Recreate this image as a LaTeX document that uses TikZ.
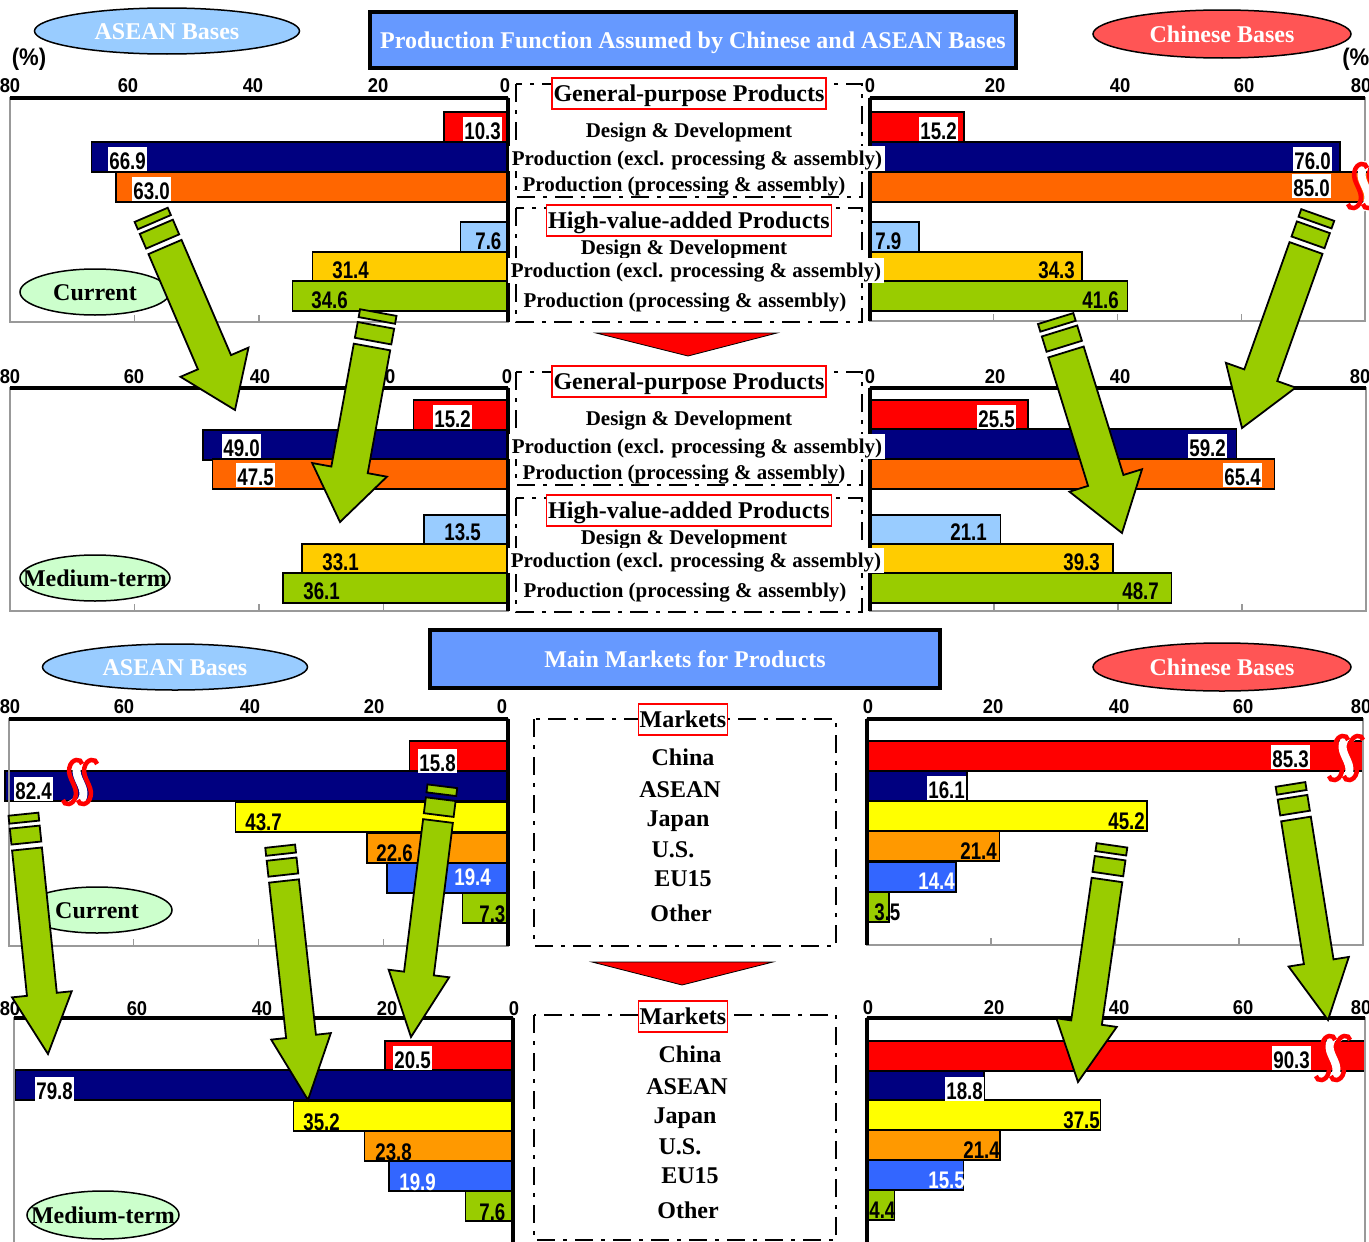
\documentclass[tikz,border=0pt]{standalone}
\usepackage{fontspec}
\setmainfont{Liberation Serif}
\newfontfamily\valfam[FakeStretch=0.78]{Liberation Sans}
\newfontfamily\tickfam[FakeStretch=0.92]{Liberation Sans}
\usetikzlibrary{shapes.geometric}
\tikzset{every picture/.style={line width=0.75pt}}

\definecolor{cred}{HTML}{FF0000}
\definecolor{cnavy}{HTML}{000080}
\definecolor{corange}{HTML}{FF6600}
\definecolor{clight}{HTML}{99CCFF}
\definecolor{cgold}{HTML}{FFCC00}
\definecolor{cgreen}{HTML}{99CC00}
\definecolor{cyellow}{HTML}{FFFF00}
\definecolor{cusa}{HTML}{FF9900}
\definecolor{ceu}{HTML}{3366FF}
\definecolor{ctitle}{HTML}{6699FF}
\definecolor{cchina}{HTML}{FF5555}
\definecolor{cphase}{HTML}{CCFFCC}

\newcommand{\headfont}{\bfseries\fontsize{24}{28}\selectfont}
\newcommand{\rowfont}{\bfseries\fontsize{21}{25}\selectfont}
\newcommand{\valfont}{\valfam\bfseries\fontsize{24}{28}\selectfont}
\newcommand{\tickfont}{\tickfam\bfseries\fontsize{20}{24}\selectfont}
\newcommand{\pctfont}{\tickfam\bfseries\fontsize{24}{28}\selectfont}

\newcommand{\chartbox}[5]{%
  \draw[chartframe] (#1,#3) rectangle (#2,#4);
  \foreach \k in {1,2,3} {\draw[chartframe] ({#1+\k*(#2-#1)/4},#4) -- ++(0,-7);}
  \draw[axisline] (#1,#3) -- (#2,#3);
  \draw[zeroline] (#5,#3) -- (#5,#4);
}

\newcommand{\greenarrow}[7]{%
  \begin{scope}[shift={(#1,#2)}, rotate={atan2(#2-#4,#3-#1)}]
    \pgfmathsetmacro{\arrlen}{veclen(#3-#1,#4-#2)}
    \draw[garrow] (0,-#5) -- ({\arrlen-#7},-#5) -- ({\arrlen-#7},-#6) -- (\arrlen,0)
      -- ({\arrlen-#7},#6) -- ({\arrlen-#7},#5) -- (0,#5) -- cycle;
    \draw[garrow] (-6,-#5) rectangle (-22,#5);
    \draw[garrow] (-27,-#5) rectangle (-35,#5);
  \end{scope}}

\newcommand{\breakmark}[2]{%
  \begin{scope}[shift={(#1,#2)}, xslant=0.2]
    \draw[white, line width=8pt] (6,-18) .. controls (4,-24) and (-6,-24) .. (-6,-14)
      .. controls (-6,-4) and (6,4) .. (6,14) .. controls (6,24) and (-4,24) .. (-6,18);
    \foreach \d in {-7.5,7.5} {
      \draw[brk] (\d+6,-18) .. controls (\d+4,-24) and (\d-6,-24) .. (\d-6,-14)
        .. controls (\d-6,-4) and (\d+6,4) .. (\d+6,14) .. controls (\d+6,24) and (\d-4,24) .. (\d-6,18);
    }
  \end{scope}}

\begin{document}
\begin{tikzpicture}[x=1pt, y=-1pt,
  bar/.style={draw=black, line width=1.6pt},
  chartframe/.style={draw=gray!80, line width=1.3pt},
  axisline/.style={draw=black, line width=3.5pt},
  zeroline/.style={draw=black, line width=4.5pt},
  val/.style={font=\valfont, anchor=base west, inner xsep=1pt, inner ysep=1pt, text height=21pt, text depth=1pt},
  ticklab/.style={font=\tickfont, anchor=base, inner sep=0pt},
  dashbox/.style={draw=black, line width=2.5pt, dash pattern=on 18pt off 8pt on 4pt off 8pt},
  grp/.style={draw=cred, fill=white, line width=1.3pt, font=\headfont, anchor=base, inner xsep=1.5pt, inner ysep=2pt, text height=21pt, text depth=6pt},
  rowtext/.style={font=\rowfont, anchor=base, inner xsep=2pt, inner ysep=1pt, text height=18pt, text depth=5pt},
  rowbg/.style={rowtext, fill=white, inner xsep=3pt},
  mkt/.style={font=\headfont, anchor=base, inner sep=1pt},
  titlebox/.style={draw=black, line width=4pt, fill=ctitle, text=white, font=\headfont, inner sep=0pt, text height=16pt, text depth=0pt},
  ell/.style={ellipse, draw=black, line width=1.5pt, font=\headfont, inner sep=0pt, text height=16pt, text depth=0pt},
  redtri/.style={fill=cred, draw=black, line width=0.8pt},
  garrow/.style={fill=cgreen, draw=black, line width=1.8pt, line join=miter},
  brk/.style={draw=cred, line width=4.5pt}]

\path[use as bounding box, clip] (0,0) rectangle (1369,1242);
\fill[white] (0,0) rectangle (1369,1242);

\foreach \t/\v/\c in {112/10.3/cred, 142/66.9/cnavy, 172/63.0/corange, 222/7.6/clight, 252/31.4/cgold, 281/34.6/cgreen}
  \draw[bar, fill=\c] (508,\t) rectangle ({508-6.225*\v},{\t+30});
\foreach \t/\v/\c in {112/15.2/cred, 142/76.0/cnavy, 172/81/corange, 222/7.9/clight, 252/34.3/cgold, 281/41.6/cgreen}
  \draw[bar, fill=\c] (870,\t) rectangle ({870+6.1875*\v},{\t+30});
\foreach \t/\v/\c in {400/15.2/cred, 430/49.0/cnavy, 459/47.5/corange, 515/13.5/clight, 544/33.1/cgold, 573/36.1/cgreen}
  \draw[bar, fill=\c] (508,\t) rectangle ({508-6.225*\v},{\t+30});
\foreach \t/\v/\c in {400/25.5/cred, 429/59.2/cnavy, 459/65.4/corange, 515/21.1/clight, 544/39.3/cgold, 573/48.7/cgreen}
  \draw[bar, fill=\c] (870,\t) rectangle ({870+6.1875*\v},{\t+30});
\foreach \t/\v/\c in {741/15.8/cred, 771/80.6/cnavy, 802/43.7/cyellow, 833/22.6/cusa, 863/19.4/ceu, 893/7.3/cgreen}
  \draw[bar, fill=\c] (508,\t) rectangle ({508-6.2375*\v},{\t+30});
\foreach \t/\v/\c in {741/80/cred, 771/16.1/cnavy, 801/45.2/cyellow, 831/21.4/cusa, 862/14.4/ceu, 892/3.5/cgreen}
  \draw[bar, fill=\c] (867,\t) rectangle ({867+6.2*\v},{\t+30});
\foreach \t/\v/\c in {1041/20.5/cred, 1070/79.8/cnavy, 1101/35.2/cyellow, 1131/23.8/cusa, 1161/19.9/ceu, 1191/7.6/cgreen}
  \draw[bar, fill=\c] (513,\t) rectangle ({513-6.2375*\v},{\t+30});
\foreach \t/\v/\c in {1041/80/cred, 1071/18.8/cnavy, 1100/37.5/cyellow, 1130/21.4/cusa, 1160/15.5/ceu, 1190/4.4/cgreen}
  \draw[bar, fill=\c] (867,\t) rectangle ({867+6.225*\v},{\t+30});

\chartbox{10}{508}{98}{322}{508}
\chartbox{870}{1365}{98}{321}{870}
\chartbox{10}{508}{388}{611}{508}
\chartbox{870}{1366}{388}{611}{870}
\chartbox{9}{508}{719}{946}{508}
\chartbox{867}{1363}{719}{945}{867}
\chartbox{14}{513}{1018}{1250}{513}
\chartbox{867}{1365}{1018}{1250}{867}

\foreach \x/\y/\t/\b/\f [count=\i] in {
  463/139/10.3/white/black, 108/169/66.9/white/black, 132/199/63.0/white/black,
  474/249/7.6/none/black, 331/278/31.4/none/black, 310/308/34.6/none/black,
  919/139/15.2/white/black, 1293/169/76.0/white/black, 1292/196/85.0/white/black,
  874/249/7.9/none/black, 1037/278/34.3/none/black, 1081/308/41.6/none/black,
  433/427/15.2/white/black, 222/456/49.0/white/black, 236/485/47.5/white/black,
  443/540/13.5/none/black, 321/570/33.1/none/black, 302/599/36.1/none/black,
  977/427/25.5/white/black, 1188/456/59.2/white/black, 1223/485/65.4/white/black,
  949/540/21.1/none/black, 1062/570/39.3/none/black, 1121/599/48.7/none/black,
  418/771/15.8/white/black, 14/799/82.4/white/black, 244/830/43.7/none/black,
  375/861/22.6/none/black, 453/885/19.4/none/white, 478/922/7.3/none/black,
  1271/767/85.3/white/black, 927/798/16.1/white/black, 1107/829/45.2/none/black,
  959/859/21.4/none/black, 917/889/14.4/none/white, 873/920/3.5/none/black,
  393/1068/20.5/white/black, 35/1099/79.8/white/black, 302/1130/35.2/none/black,
  374/1160/23.8/none/black, 398/1190/19.9/none/white, 478/1220/7.6/none/black,
  1272/1068/90.3/white/black, 945/1099/18.8/white/black, 1062/1128/37.5/none/black,
  962/1158/21.4/none/black, 927/1188/15.5/none/white, 868/1218/4.4/none/black}
  \node[val, fill=\b, text=\f] (val\i) at (\x,\y) {\t};

\foreach \x/\y/\t [count=\i] in {
  10/92/80, 128/92/60, 253/92/40, 378/92/20, 505/92/0,
  870/92/0, 995/92/20, 1120/92/40, 1244/92/60, 1361/92/80,
  10/383/80, 134/383/60, 260/383/40, 385/383/20, 507/383/0,
  870/383/0, 995/383/20, 1120/383/40, 1244/383/60, 1360/383/80,
  10/713/80, 124/713/60, 250/713/40, 374/713/20, 502/713/0,
  868/713/0, 993/713/20, 1119/713/40, 1243/713/60, 1361/713/80,
  10/1015/80, 137/1015/60, 262/1015/40, 387/1015/20, 514/1015/0,
  868/1014/0, 994/1014/20, 1119/1014/40, 1243/1014/60, 1361/1014/80}
  \node[ticklab] (tk\i) at (\x,\y) {\t};
\node[ticklab, font=\pctfont] (pct1) at (29,65) {(\%)};
\node[ticklab, font=\pctfont, anchor=base west] (pct2) at (1342,65) {(\%)};

\foreach \bx/\by in {1365/186, 80/782, 1346/758, 1333/1058}
  {\breakmark{\bx}{\by}}

\draw[dashbox] (516,84) rectangle (862,197);
\draw[dashbox] (516,208) rectangle (862,322);
\draw[dashbox] (516,372) rectangle (862,485);
\draw[dashbox] (516,498) rectangle (862,612);
\draw[dashbox] (534,719) rectangle (836,946);
\draw[dashbox] (534,1015) rectangle (836,1240);

\foreach \yo/\yb [count=\n] in {0/0, 288/290} {
  \node[grp] (gen\n) at (689,101+\yo) {General-purpose Products};
  \node[rowtext] (dsg\n) at (689,137+\yo) {Design \& Development};
  \node[rowbg] (exc\n) at (697,165+\yo) {Production (excl. processing \& assembly)};
  \node[rowtext] (asm\n) at (684,191+\yo) {Production (processing \& assembly)};
  \node[grp] (hva\n) at (689,228+\yb) {High-value-added Products};
  \node[rowtext] (dsh\n) at (684,254+\yb) {Design \& Development};
  \node[rowbg] (exh\n) at (696,277+\yb) {Production (excl. processing \& assembly)};
  \node[rowtext] (ash\n) at (685,307+\yb) {Production (processing \& assembly)};
}

\foreach \yo/\xo [count=\n] in {0/0, 297/7} {
  \node[grp] (mkts\n) at (683,727+\yo) {Markets};
  \foreach \x/\y/\t [count=\j] in {683/765/China, 680/797/ASEAN, 678/826/Japan, 673/857/U.S., 683/886/EU15, 681/921/Other}
    \node[mkt] (mk\n\j) at (\x+\xo,\y+\yo) {\t};
}

\draw[redtri] (596,333) -- (777,333) -- (688,356) -- cycle;
\draw[redtri] (592,962) -- (773,962) -- (682,985) -- cycle;

\node[titlebox, minimum width=646pt, minimum height=56pt] (func) at (693,40)
  {Production Function Assumed by Chinese and ASEAN Bases};
\node[titlebox, minimum width=510pt, minimum height=58pt] (mkttl) at (685,659)
  {Main Markets for Products};

\node[ell, fill=clight, text=white, minimum width=265pt, minimum height=46pt] (asean1) at (167,31) {ASEAN Bases};
\node[ell, fill=cchina, text=white, minimum width=258pt, minimum height=48pt] (china1) at (1222,34) {Chinese Bases};
\node[ell, fill=clight, text=white, minimum width=265pt, minimum height=46pt] (asean2) at (175,667) {ASEAN Bases};
\node[ell, fill=cchina, text=white, minimum width=258pt, minimum height=48pt] (china2) at (1222,667) {Chinese Bases};
\node[ell, fill=cphase, minimum width=150pt, minimum height=46pt] (cur1) at (95,292) {Current};
\node[ell, fill=cphase, minimum width=150pt, minimum height=46pt] (med1) at (95,578) {\makebox[0pt]{Medium-term}};
\node[ell, fill=cphase, minimum width=150pt, minimum height=46pt] (cur2) at (97,910) {Current};
\node[ell, fill=cphase, minimum width=152pt, minimum height=48pt] (med2) at (103,1215) {\makebox[0pt]{Medium-term}};

\foreach \tx/\ty/\px/\py/\w/\h/\l in {
  165/247/235/410/18/37/52, 372/347/340/522/18.5/38/53,
  1306/248/1242/428/17.5/37/56, 1066/352/1122/533/18.5/38/55,
  27/849/48/1054/15/30/60, 284/881/308/1100/15/30/64,
  438/821/411/1037/15/30.5/64, 1107/880/1078/1082/15.5/30.5/60,
  1296/819/1328/1020/15/30.5/59}
  {\greenarrow{\tx}{\ty}{\px}{\py}{\w}{\h}{\l}}
\end{tikzpicture}
\end{document}
